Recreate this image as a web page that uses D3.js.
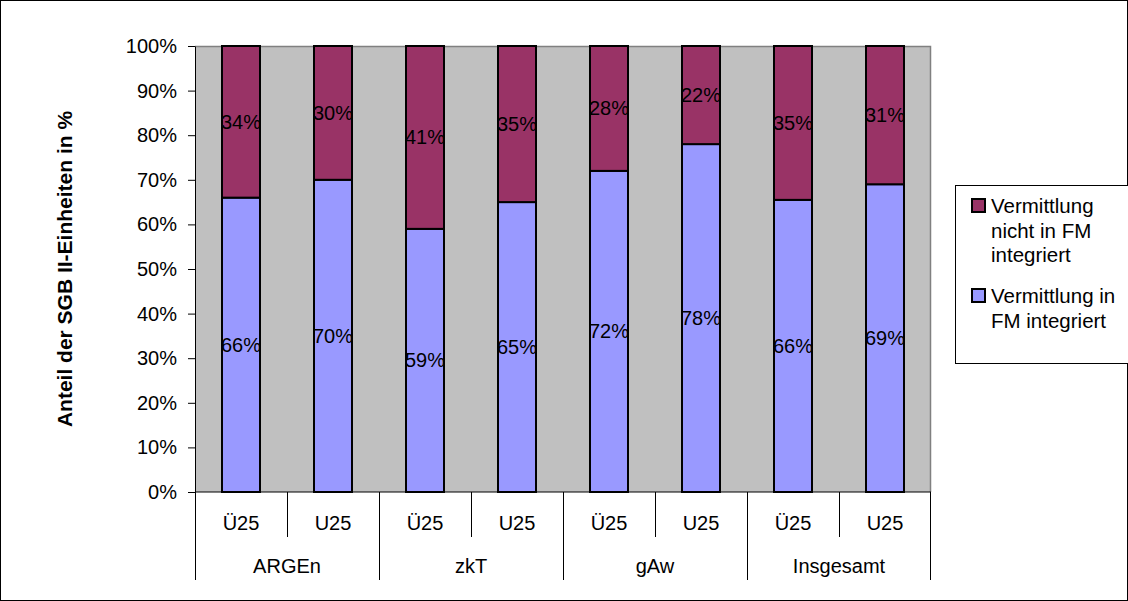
<!DOCTYPE html>
<html><head><meta charset="utf-8">
<script src="https://cdn.jsdelivr.net/npm/d3@7"></script>
<style>
body{margin:0;background:#fff;}
svg{display:block;font-family:Arial,"Liberation Sans",sans-serif;}
</style></head>
<body>
<svg id="c" width="1128" height="601"></svg>
<script>
const groups = ["ARGEn","zkT","gAw","Insgesamt"];
const subLabels = ["Ü25","U25"];
const categories = ["ARGEn|Ü25","ARGEn|U25","zkT|Ü25","zkT|U25","gAw|Ü25","gAw|U25","Insgesamt|Ü25","Insgesamt|U25"];
const integriert = [66,70,59,65,72,78,65.5,69];
const nichtIntegriert = [34,30,41,35,28,22,34.5,31];
const seriesNames = ["Vermittlung nicht in FM integriert","Vermittlung in FM integriert"];
const legendLines = [["Vermittlung","nicht in FM","integriert"],["Vermittlung in","FM integriert"]];
const colors = ["#993366","#9999FF"];
const yTicks = [0,10,20,30,40,50,60,70,80,90,100];
const yTitle = "Anteil der SGB II-Einheiten in %";

const FS = 20;
const svg = d3.select("#c");
const L=195,R=931,T=46,B=492;

svg.append("rect").attr("x",0.5).attr("y",0.5).attr("width",1127).attr("height",600)
  .attr("fill","#fff").attr("stroke","#000");

const x = d3.scaleBand().domain(categories).range([L,R]).paddingInner(0.587).paddingOuter(0.2935);
const xc = d3.scaleBand().domain(categories).range([L,R]);
const y = d3.scaleLinear().domain([0,100]).range([B,T]);

svg.append("rect").attr("x",L).attr("y",T).attr("width",R-L).attr("height",B-T).attr("fill","#C0C0C0");
svg.append("path").attr("d",`M${L},${T+0.5}H${R-0.5}V${B}`).attr("fill","none").attr("stroke","#808080").attr("stroke-width",1.5);

const data = categories.map((c,i)=>({cat:c, low:integriert[i], high:nichtIntegriert[i]}));

const g = svg.append("g");
data.forEach(d=>{
  const top = Math.min(100, d.low + d.high);
  g.append("rect").attr("x",x(d.cat)).attr("width",x.bandwidth())
    .attr("y",y(d.low)).attr("height",y(0)-y(d.low))
    .attr("fill",colors[1]).attr("stroke","#000").attr("stroke-width",2);
  g.append("rect").attr("x",x(d.cat)).attr("width",x.bandwidth())
    .attr("y",y(top)).attr("height",y(d.low)-y(top))
    .attr("fill",colors[0]).attr("stroke","#000").attr("stroke-width",2);
  const cx = x(d.cat)+x.bandwidth()/2;
  g.append("text").attr("x",cx).attr("y",y(d.low/2)).attr("dy","0.35em")
    .attr("text-anchor","middle").attr("font-size",FS).text(Math.round(d.low)+"%");
  g.append("text").attr("x",cx).attr("y",y(d.low+(top-d.low)/2)).attr("dy","0.35em")
    .attr("text-anchor","middle").attr("font-size",FS).text(Math.round(d.high)+"%");
});

// y axis
const ya = svg.append("g").attr("transform",`translate(${L},0)`)
  .call(d3.axisLeft(y).tickValues(yTicks).tickFormat(d=>d+"%").tickSize(7).tickSizeOuter(0).tickPadding(11));
ya.select(".domain").attr("stroke","#000");
ya.selectAll("line").attr("stroke","#000");
ya.selectAll("text").attr("font-size",FS).attr("fill","#000").attr("font-family","Arial,'Liberation Sans',sans-serif");

// x axis line
svg.append("line").attr("x1",L).attr("x2",R).attr("y1",B).attr("y2",B).attr("stroke","#000");
// separators
categories.forEach((c,i)=>{
  const xs = xc(c);
  const isGroup = i%2===0;
  svg.append("line").attr("x1",xs+0.5).attr("x2",xs+0.5).attr("y1",B).attr("y2",isGroup?580:537).attr("stroke","#000");
  svg.append("text").attr("x",xs+xc.bandwidth()/2).attr("y",523).attr("dy","0.35em")
    .attr("text-anchor","middle").attr("font-size",FS).text(c.split("|")[1]);
});
svg.append("line").attr("x1",R-0.5).attr("x2",R-0.5).attr("y1",B).attr("y2",580).attr("stroke","#000");
groups.forEach((gname,k)=>{
  const x0 = xc(gname+"|Ü25"), x1 = xc(gname+"|U25")+xc.bandwidth();
  svg.append("text").attr("x",(x0+x1)/2).attr("y",566).attr("dy","0.35em")
    .attr("text-anchor","middle").attr("font-size",FS).text(gname);
});

// y title
svg.append("text").attr("transform",`translate(65,${(T+B)/2}) rotate(-90)`).attr("dy","0.35em")
  .attr("text-anchor","middle").attr("font-size",21).attr("font-weight","bold").text(yTitle);

// legend
svg.append("rect").attr("x",955.5).attr("y",185.5).attr("width",180).attr("height",178)
  .attr("fill","#fff").attr("stroke","#000");
const legY = [199,289];
legendLines.forEach((lines,i)=>{
  svg.append("rect").attr("x",972).attr("y",legY[i]).attr("width",13).attr("height",13)
    .attr("fill",colors[i]).attr("stroke","#000").attr("stroke-width",2);
  lines.forEach((ln,j)=>{
    svg.append("text").attr("x",991).attr("y",legY[i]+7+j*24.5).attr("dy","0.35em")
      .attr("font-size",20.5).text(ln);
  });
});
</script>
</body></html>
